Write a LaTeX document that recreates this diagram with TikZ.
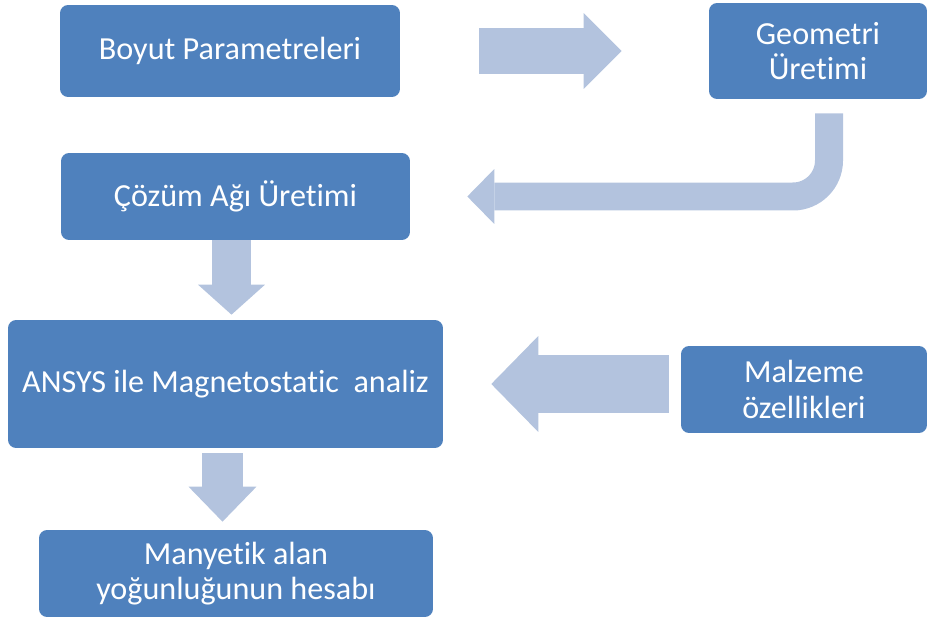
\documentclass[tikz,border=0pt]{standalone}
\usepackage{fontspec}
\setmainfont{Carlito}[Ligatures=NoCommon]
\usetikzlibrary{arrows.meta}
\definecolor{boxblue}{RGB}{79,129,189}
\definecolor{arrowblue}{RGB}{179,195,222}
\tikzset{
    stage/.style={fill=boxblue, rounded corners=0.16cm, text=white, align=center, inner sep=0pt, font=\fontsize{18.3}{20}\selectfont},
    flow/.style={draw=arrowblue, line cap=butt}
}

\begin{document}
\begin{tikzpicture}[x=0.02cm, y=-0.02cm]
    % Frame
    \useasboundingbox (0,0) rectangle (927,618);

    % Stages
    \node[stage, minimum width=6.8cm, minimum height=1.84cm] (boyut) at (230,51) {Boyut Parametreleri};
    \node[stage, minimum width=4.36cm, minimum height=1.92cm] (geometri) at (818,51) {Geometri\\Üretimi};
    \node[stage, minimum width=6.98cm, minimum height=1.74cm] (cozum) at (235.5,196.5) {Çözüm Ağı Üretimi};
    \node[stage, minimum width=8.7cm, minimum height=2.56cm] (ansys) at (225.5,384) {ANSYS ile Magnetostatic\ \ analiz};
    \node[stage, minimum width=4.92cm, minimum height=1.74cm] (malzeme) at (804,389.5) {Malzeme\\özellikleri};
    \node[stage, minimum width=7.88cm, minimum height=1.74cm] (manyetik) at (236,573.5) {Manyetik alan\\yoğunluğunun hesabı};

    % Boyut -> Geometri
    \draw[flow, line width=0.94cm, shorten <=1.58cm, shorten >=1.74cm, -{Triangle[width=1.52cm, length=0.76cm, line width=0pt]}] (boyut.east) -- (geometri.west);

    % Geometri -> Cozum (bent)
    \draw[flow, line width=0.56cm, rounded corners=0.72cm, shorten >=1.14cm, -{Triangle[width=1.1cm, length=0.54cm, line width=0pt]}] ([xshift=0.22cm, yshift=-0.28cm]geometri.south) |- (cozum.east);

    % Cozum -> ANSYS
    \draw[flow, line width=0.78cm, shorten >=0.1cm, -{Triangle[width=1.34cm, length=0.6cm, line width=0pt]}] ([xshift=-0.08cm]cozum.south) -- ([xshift=-0.08cm]cozum.south |- ansys.north);

    % Malzeme -> ANSYS
    \draw[flow, line width=1.18cm, shorten <=0.24cm, shorten >=0.96cm, -{Triangle[width=1.92cm, length=0.94cm, line width=0pt]}] (malzeme.west |- ansys.east) -- (ansys.east);

    % ANSYS -> Manyetik
    \draw[flow, line width=0.82cm, shorten <=0.1cm, shorten >=0.16cm, -{Triangle[width=1.36cm, length=0.7cm, line width=0pt]}] ([xshift=-0.06cm]ansys.south) -- ([xshift=-0.06cm]ansys.south |- manyetik.north);
\end{tikzpicture}
\end{document}
